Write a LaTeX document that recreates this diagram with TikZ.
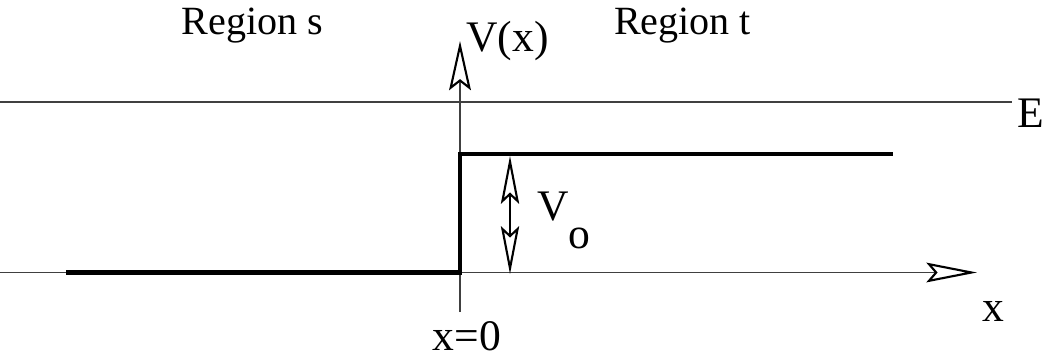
\documentclass[tikz,border=0pt]{standalone}
\usepackage{fontspec}
\setmainfont{Liberation Serif}
\usetikzlibrary{arrows.meta}
\tikzset{
  thin axis/.style={line width=1.1pt, draw=black!75},
  pot/.style={line width=3.2pt, draw=black},
  lbl/.style={font=\fontsize{31}{36}\selectfont, inner sep=0pt, anchor=base},
  rlbl/.style={font=\fontsize{28.5}{34}\selectfont, inner sep=0pt, anchor=base}
}
\begin{document}
\begin{tikzpicture}[x=0.025cm, y=-0.025cm]
\useasboundingbox (0,0) rectangle (1058,361);
% coordinates
\coordinate (xl) at (0,272.5);
\coordinate (xr) at (977,272.5);
\coordinate (el) at (0,102);
\coordinate (er) at (1012,102);
\coordinate (vb) at (460,312);
\coordinate (vt) at (460,41);
\coordinate (p0) at (66,272.5);
\coordinate (p1) at (460,272.5);
\coordinate (p2) at (460,154);
\coordinate (p3) at (893,154);
\coordinate (da) at (510,156);
\coordinate (db) at (510,274);
% lines
\draw[thin axis, -{Stealth[open, length=36pt, width=14pt, inset=6pt, line width=1.5pt, color=black]}] (xl) -- (xr);
\draw[thin axis] (el) -- (er);
\draw[thin axis, -{Stealth[open, length=35pt, width=15.5pt, inset=6pt, line width=1.5pt, color=black]}] (vb) -- (vt);
\draw[pot] (p0) -- (p1) -- (p2) -- (p3);
\draw[line width=1.1pt, {Stealth[open, length=34pt, width=13pt, inset=6pt, line width=1.5pt]}-{Stealth[open, length=34pt, width=13pt, inset=6pt, line width=1.5pt]}] (da) -- (db);
% labels
\node[rlbl] (rs) at (252.5,35) {Region s};
\node[rlbl] (rt) at (682.5,35) {Region t};
\node[lbl] (vx) at (507.5,52) {V(x)};
\node[lbl] (E) at (1031,128) {E};
\node[lbl, anchor=base west] (vo) at (537,220) {V\raisebox{-0.65em}{o}};
\node[lbl] (x) at (993,321) {x};
\node[lbl] (x0) at (467,350) {x=0};
\end{tikzpicture}
\end{document}
